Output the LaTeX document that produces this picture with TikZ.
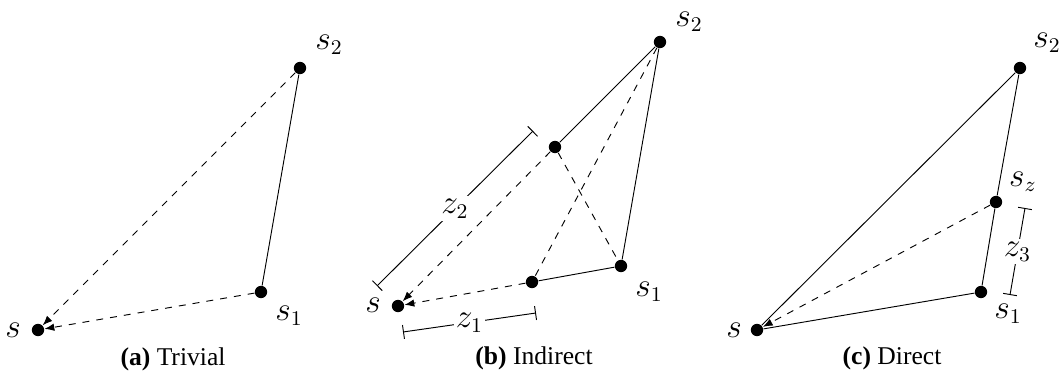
\documentclass[tikz,border=0pt]{standalone}
\usepackage{fontspec}
\setmainfont{Liberation Serif}
\usetikzlibrary{arrows.meta}
\begin{document}
\begin{tikzpicture}[x=0.43pt,y=-0.43pt,
  dot/.style={circle,fill=black,inner sep=0pt,minimum size=5.3pt},
  lbl/.style={inner sep=0pt,font=\fontsize{13.5}{16}\selectfont},
  dasharrow/.style={dashed,-{Latex[length=4.2pt,width=3.2pt]}},
  dimline/.style={{Bar[width=6pt]}-{Bar[width=6pt]}},
  dimlabel/.style={fill=white,inner sep=1pt,font=\fontsize{13.5}{16}\selectfont},
  captionnode/.style={inner sep=0pt,font=\fontsize{11}{13}\selectfont}
]
\useasboundingbox (0,0) rectangle (1062,376);

% ---------- (a) Trivial ----------
\node[dot] (a-s)  at (38,330) {};
\node[dot] (a-s1) at (261,292) {};
\node[dot] (a-s2) at (300,68) {};
\node[lbl] (a-ls)  at (13,330) {$s$};
\node[lbl] (a-ls1) at (289,316) {$s_1$};
\node[lbl] (a-ls2) at (329,45) {$s_2$};
\draw (a-s1) -- (a-s2);
\draw[dasharrow] (a-s2) -- (a-s);
\draw[dasharrow] (a-s1) -- (a-s);
\node[captionnode] (a-cap) at (173,359) {\textbf{(a)} Trivial};

% ---------- (b) Indirect ----------
\node[dot] (b-s)  at (398,306) {};
\node[dot] (b-m1) at (532,282) {};
\node[dot] (b-s1) at (621,266) {};
\node[dot] (b-s2) at (660,42) {};
\node[dot] (b-m2) at (555,147) {};
\node[lbl] (b-ls)  at (373,305) {$s$};
\node[lbl] (b-ls1) at (649,292) {$s_1$};
\node[lbl] (b-ls2) at (689,22) {$s_2$};
\draw (b-s2) -- (b-s1);
\draw (b-s1) -- (b-m1);
\draw (b-s2) -- (b-m2);
\draw[dasharrow] (b-m2) -- (b-s);
\draw[dasharrow] (b-m1) -- (b-s);
\draw[dashed] (b-s2) -- (b-m1);
\draw[dashed] (b-m2) -- (b-s1);
\coordinate (z2a) at (377,286);
\coordinate (z2b) at (533,131);
\coordinate (z1a) at (403,332);
\coordinate (z1b) at (536,313);
\draw[dimline] (z2a) -- node[dimlabel] {$z_2$} (z2b);
\draw[dimline] (z1a) -- node[dimlabel] {$z_1$} (z1b);
\node[captionnode] (b-cap) at (534,358) {\textbf{(b)} Indirect};

% ---------- (c) Direct ----------
\node[dot] (c-s)  at (757,330) {};
\node[dot] (c-s1) at (981,292) {};
\node[dot] (c-s2) at (1020,68) {};
\node[dot] (c-sz) at (996,202) {};
\node[lbl] (c-ls)  at (734,330) {$s$};
\node[lbl] (c-ls1) at (1008,314) {$s_1$};
\node[lbl] (c-ls2) at (1047,43) {$s_2$};
\node[lbl] (c-lsz) at (1023,182) {$s_z$};
\draw (c-s) -- (c-s2);
\draw (c-s2) -- (c-sz);
\draw (c-sz) -- (c-s1);
\draw (c-s1) -- (c-s);
\draw[dasharrow] (c-sz) -- (c-s);
\coordinate (z3a) at (1025,208);
\coordinate (z3b) at (1010,295);
\draw[dimline] (z3a) -- node[dimlabel] {$z_3$} (z3b);
\node[captionnode] (c-cap) at (892,358) {\textbf{(c)} Direct};
\end{tikzpicture}
\end{document}
